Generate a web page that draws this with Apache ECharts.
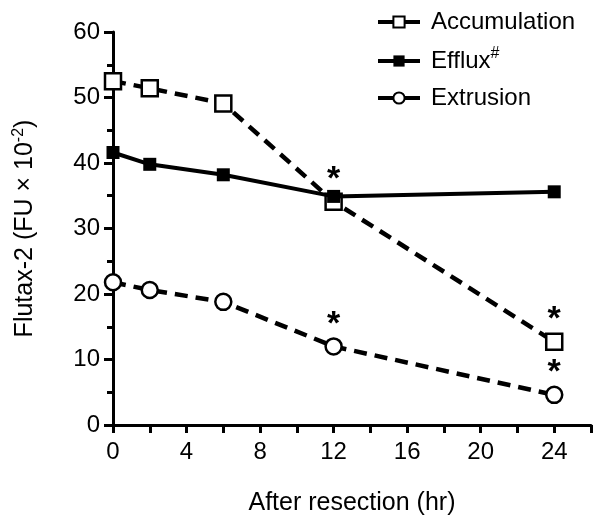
<!DOCTYPE html>
<html>
<head>
<meta charset="utf-8">
<script src="https://cdn.jsdelivr.net/npm/echarts@6/dist/echarts.min.js"></script>
<style>html,body{margin:0;padding:0;background:#fff}#c{width:600px;height:523px}</style>
</head>
<body>
<div id="c"></div>
<script>
const hours = [0, 2, 6, 12, 24];
const accumulation = [52.5, 51.4, 49.1, 34.1, 12.7];
const efflux = [41.6, 39.8, 38.2, 34.9, 35.6];
const extrusion = [21.8, 20.6, 18.8, 12.0, 4.6];
const accSignificant = [false, false, false, true, true];
const extSignificant = [false, false, false, true, true];
const xTickLabels = [0, 4, 8, 12, 16, 20, 24];

const FONT = '"Liberation Sans", Arial, sans-serif';

function build(vals, sig) {
  return hours.map((h, i) => {
    const item = { value: [h, vals[i]] };
    if (sig && sig[i]) {
      item.label = { show: true, formatter: '*', position: 'top', distance: -4,
        fontSize: 34, fontWeight: 'bold', fontFamily: FONT, color: '#000' };
    }
    return item;
  });
}

const chart = echarts.init(document.getElementById('c'), null, { renderer: 'canvas' });
const dash = [13, 8];
chart.setOption({
  animation: false,
  backgroundColor: '#fff',
  textStyle: { fontFamily: FONT, color: '#000' },
  grid: { left: 113, right: 9, top: 32, bottom: 98, containLabel: false },
  legend: {
    orient: 'vertical', left: 371, top: 4, itemWidth: 42, itemHeight: 14, itemGap: 11,
    lineStyle: { width: 4, type: 'solid', color: '#000' },
    textStyle: {
      fontSize: 24, fontFamily: FONT, color: '#000', lineHeight: 26, padding: [0, 0, 0, 6],
      rich: {
        a: { fontSize: 24, fontFamily: FONT, color: '#000' },
        s: { fontSize: 16, fontFamily: FONT, color: '#000', padding: [0, 0, 14, 0] }
      }
    },
    formatter: n => n === 'Efflux' ? '{a|Efflux}{s|#}' : n,
    data: ['Accumulation', 'Efflux', 'Extrusion']
  },
  xAxis: {
    type: 'value', min: 0, max: 26, interval: 2,
    name: 'After resection (hr)', nameLocation: 'middle', nameGap: 66,
    nameTextStyle: { fontSize: 25, fontFamily: FONT, color: '#000' },
    axisLine: { lineStyle: { color: '#000', width: 3 } },
    axisTick: { length: 8, lineStyle: { color: '#000', width: 3 } },
    axisLabel: { fontSize: 24, fontFamily: FONT, color: '#000', margin: 15,
      formatter: v => xTickLabels.includes(v) ? String(v) : '' },
    splitLine: { show: false }
  },
  yAxis: {
    type: 'value', min: 0, max: 60, interval: 10,
    name: '{a|Flutax-2 (FU × 10}{s|-2}{a|)}', nameLocation: 'middle', nameGap: 74,
    nameTextStyle: {
      fontSize: 25, fontFamily: FONT, color: '#000',
      rich: {
        a: { fontSize: 25, fontFamily: FONT, color: '#000' },
        s: { fontSize: 16, fontFamily: FONT, color: '#000', padding: [0, 0, 12, 0] }
      }
    },
    axisLine: { show: true, lineStyle: { color: '#000', width: 3 } },
    axisTick: { show: true, length: 9, lineStyle: { color: '#000', width: 3 } },
    minorTick: { show: true, splitNumber: 2, length: 6, lineStyle: { color: '#000', width: 3 } },
    axisLabel: { fontSize: 24, fontFamily: FONT, color: '#000', margin: 13 },
    splitLine: { show: false }
  },
  series: [
    {
      name: 'Accumulation', type: 'line', data: build(accumulation, accSignificant),
      symbol: 'rect', symbolSize: 16,
      lineStyle: { color: '#000', width: 4.5, type: dash },
      itemStyle: { color: '#fff', borderColor: '#000', borderWidth: 2.5 }, z: 2
    },
    {
      name: 'Efflux', type: 'line', data: build(efflux, null),
      symbol: 'rect', symbolSize: 13,
      lineStyle: { color: '#000', width: 4 },
      itemStyle: { color: '#000', borderColor: '#000', borderWidth: 0 }, z: 3
    },
    {
      name: 'Extrusion', type: 'line', data: build(extrusion, extSignificant),
      symbol: 'circle', symbolSize: 16,
      lineStyle: { color: '#000', width: 4.5, type: dash },
      itemStyle: { color: '#fff', borderColor: '#000', borderWidth: 2.5 }, z: 2
    }
  ]
});
</script>
</body>
</html>
